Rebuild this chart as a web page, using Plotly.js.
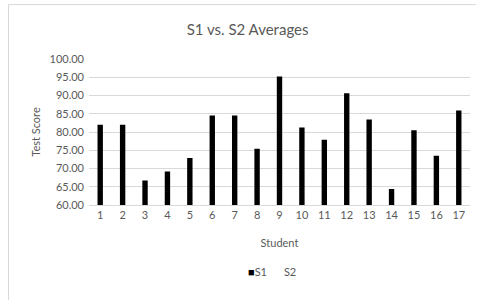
<!DOCTYPE html>
<html>
<head>
<meta charset="utf-8">
<script src="https://cdn.plot.ly/plotly-3.0.1.min.js"></script>
<style>html,body{margin:0;padding:0;background:#fff;}#chart{width:477px;height:300px;}</style>
</head>
<body>
<div id="chart"></div>
<script>
var students = ['1','2','3','4','5','6','7','8','9','10','11','12','13','14','15','16','17'];
var s1 = [82.0, 82.0, 66.7, 69.2, 72.9, 84.5, 84.5, 75.4, 95.2, 81.2, 77.9, 90.6, 83.4, 64.4, 80.5, 73.5, 85.9];
var s2 = [null, null, null, null, null, null, null, null, null, null, null, null, null, null, null, null, null];
var yTicks = [60, 65, 70, 75, 80, 85, 90, 95, 100];

var gray = '#595959';
var fontFam = 'Lato, "Open Sans", sans-serif';

var traces = [
  {type: 'bar', name: 'S1', x: students, y: s1, width: 0.24,
   marker: {color: '#000000'}, showlegend: false, hoverinfo: 'x+y'},
  {type: 'bar', name: 'S2', x: students, y: s2, width: 0.24,
   marker: {color: 'rgba(0,0,0,0)'}, showlegend: false}
];

var layout = {
  width: 477, height: 300,
  margin: {l: 89, r: 7, t: 58.7, b: 95.3},
  paper_bgcolor: '#ffffff', plot_bgcolor: '#ffffff',
  barmode: 'overlay',
  font: {family: fontFam, size: 11, color: gray},
  title: {text: 'S1 vs. S2 Averages', x: 0.519, xanchor: 'center', y: 0.9, yanchor: 'middle',
          font: {family: fontFam, size: 15, color: gray}},
  xaxis: {type: 'category', showgrid: false, showline: true, linecolor: '#d9d9d9', linewidth: 1,
          ticks: '', tickfont: {size: 11, color: gray},
          title: {text: 'Student', standoff: 19, font: {size: 11, color: gray}}},
  yaxis: {range: [60, 100], tickvals: yTicks, ticktext: yTicks.map(function(v){return v.toFixed(2);}),
          showgrid: true, gridcolor: '#d9d9d9', gridwidth: 1, zeroline: false, showline: false,
          ticks: '', ticklabelstandoff: 4, tickfont: {size: 11, color: gray},
          title: {text: 'Test Score', standoff: 6, font: {size: 11, color: gray}}},
  annotations: [
    {xref: 'paper', yref: 'paper', x: 0.412, y: -0.453, xanchor: 'left', yanchor: 'middle', showarrow: false,
     text: '<span style="color:#000000">■</span>S1      S2', font: {size: 11, color: gray}}
  ],
  shapes: [
    {type: 'line', xref: 'paper', yref: 'paper', x0: -0.2113, x1: -0.2113, y0: 1.3726, y1: -0.66,
     line: {color: '#d9d9d9', width: 1}},
    {type: 'line', xref: 'paper', yref: 'paper', x0: -0.2113, x1: 1.0157, y0: 1.3726, y1: 1.3726,
     line: {color: '#d9d9d9', width: 1}}
  ]
};

Plotly.newPlot('chart', traces, layout, {displayModeBar: false, staticPlot: true});
</script>
</body>
</html>
